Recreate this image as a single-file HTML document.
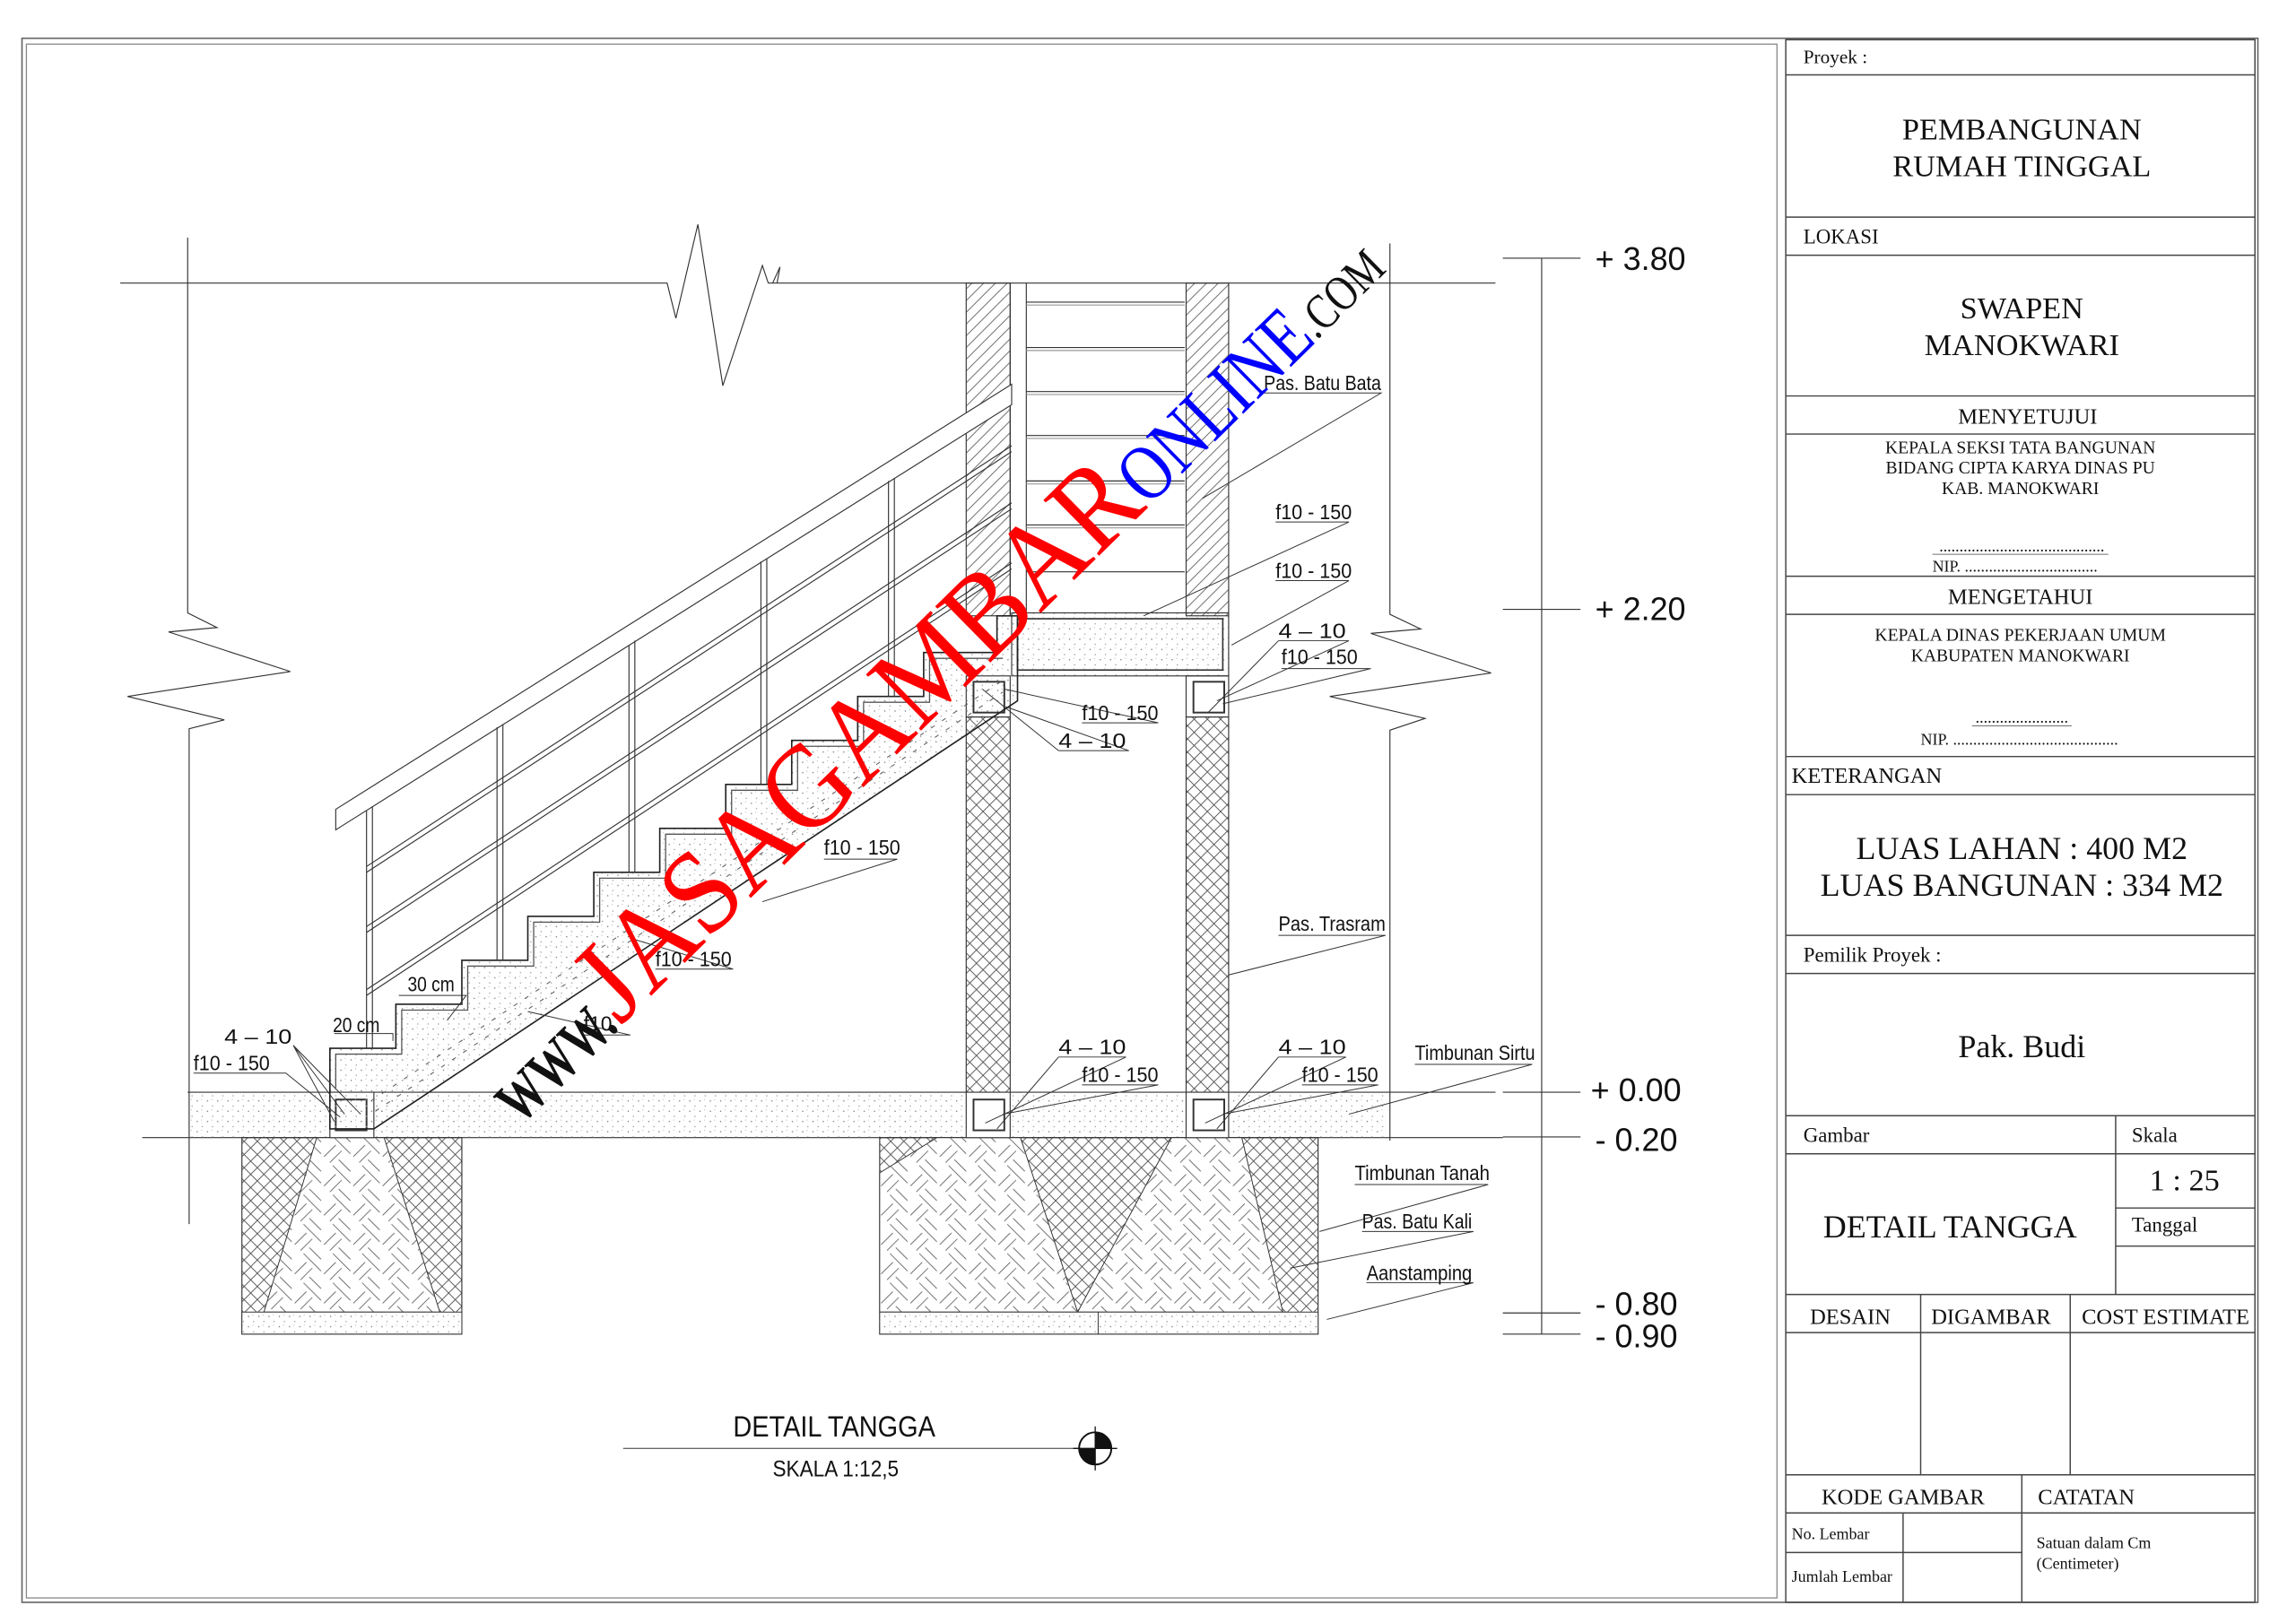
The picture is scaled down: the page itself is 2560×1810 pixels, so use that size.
<!DOCTYPE html>
<html><head><meta charset="utf-8"><style>
html,body{margin:0;padding:0;background:#fff;}
svg{display:block;}
.s{font-family:"Liberation Serif",serif;fill:#111;}
.a{font-family:"Liberation Sans",sans-serif;fill:#111;}
</style></head><body>
<svg width="2560" height="1810" viewBox="0 0 1566 1107" xmlns="http://www.w3.org/2000/svg">
<defs>
<pattern id="cross" width="9" height="9" patternUnits="userSpaceOnUse"><path d="M0 0L9 9M9 0L0 9" stroke="#444" stroke-width="0.5"/></pattern>
<pattern id="hatch" width="8" height="8" patternUnits="userSpaceOnUse"><path d="M0 8L8 0M-2 2L2 -2M6 10L10 6" stroke="#555" stroke-width="0.5"/></pattern>
<pattern id="stone" width="20" height="20" patternUnits="userSpaceOnUse"><path d="M1 9L9 1M5 13L13 5M11 11L19 19M7 15L15 23M11 -1L19 7" stroke="#555" stroke-width="0.5"/></pattern>
<pattern id="dots" width="7" height="7" patternUnits="userSpaceOnUse"><circle cx="1.5" cy="2" r="0.45" fill="#777"/><circle cx="5" cy="5.5" r="0.45" fill="#999"/><circle cx="4.5" cy="1" r="0.35" fill="#aaa"/></pattern>
</defs>
<rect width="1566" height="1107" fill="#fff"/>
<rect x="15" y="26" width="1525" height="1067" fill="none" stroke="#666" stroke-width="1"/>
<rect x="18" y="30" width="1194" height="1060" fill="none" stroke="#888" stroke-width="0.8"/>
<g stroke="#444" stroke-width="0.9" fill="none">
<rect x="1218" y="27" width="320" height="1066"/>
<path d="M1218 51H1538M1218 148H1538M1218 174H1538M1218 270H1538M1218 296H1538M1218 393H1538M1218 419H1538M1218 516H1538M1218 542H1538M1218 638H1538M1218 664H1538M1218 761H1538M1218 787H1538M1443 761V883M1443 824H1538M1443 850H1538M1218 883H1538M1218 909H1538M1310 883V1006M1412 883V1006M1218 1006H1538M1218 1032H1538M1379 1006V1093M1218 1059H1379M1298 1032V1093"/>
<path d="M1318 378H1438M1345 495H1413" stroke-width="0.5"/>
</g>
<g class="s">
<text x="1230" y="43" font-size="13">Proyek :</text>
<text x="1379" y="95" font-size="21" text-anchor="middle">PEMBANGUNAN</text>
<text x="1379" y="120" font-size="21" text-anchor="middle">RUMAH TINGGAL</text>
<text x="1230" y="166" font-size="14">LOKASI</text>
<text x="1379" y="217" font-size="21" text-anchor="middle">SWAPEN</text>
<text x="1379" y="242" font-size="21" text-anchor="middle">MANOKWARI</text>
<text x="1383" y="289" font-size="15" text-anchor="middle">MENYETUJUI</text>
<text x="1378" y="309" font-size="12" text-anchor="middle">KEPALA SEKSI TATA BANGUNAN</text>
<text x="1378" y="323" font-size="12" text-anchor="middle">BIDANG CIPTA KARYA DINAS PU</text>
<text x="1378" y="337" font-size="12" text-anchor="middle">KAB. MANOKWARI</text>
<text x="1379" y="376" font-size="11" text-anchor="middle">.........................................</text>
<text x="1318" y="390" font-size="11">NIP. .................................</text>
<text x="1378" y="412" font-size="15" text-anchor="middle">MENGETAHUI</text>
<text x="1378" y="437" font-size="12" text-anchor="middle">KEPALA DINAS PEKERJAAN UMUM</text>
<text x="1378" y="451" font-size="12" text-anchor="middle">KABUPATEN MANOKWARI</text>
<text x="1379" y="493" font-size="11" text-anchor="middle">.......................</text>
<text x="1310" y="508" font-size="11">NIP. .........................................</text>
<text x="1222" y="534" font-size="15">KETERANGAN</text>
<text x="1379" y="586" font-size="22" text-anchor="middle">LUAS LAHAN : 400 M2</text>
<text x="1379" y="611" font-size="22" text-anchor="middle">LUAS BANGUNAN : 334 M2</text>
<text x="1230" y="656" font-size="14">Pemilik Proyek :</text>
<text x="1379" y="721" font-size="22" text-anchor="middle">Pak. Budi</text>
<text x="1230" y="779" font-size="14">Gambar</text>
<text x="1454" y="779" font-size="14">Skala</text>
<text x="1490" y="812" font-size="21" text-anchor="middle">1 : 25</text>
<text x="1454" y="840" font-size="14">Tanggal</text>
<text x="1330" y="844" font-size="22" text-anchor="middle">DETAIL TANGGA</text>
<text x="1262" y="903" font-size="15" text-anchor="middle">DESAIN</text>
<text x="1358" y="903" font-size="15" text-anchor="middle">DIGAMBAR</text>
<text x="1477" y="903" font-size="15" text-anchor="middle">COST ESTIMATE</text>
<text x="1298" y="1026" font-size="15" text-anchor="middle">KODE GAMBAR</text>
<text x="1390" y="1026" font-size="15">CATATAN</text>
<text x="1222" y="1050" font-size="11">No. Lembar</text>
<text x="1222" y="1079" font-size="11">Jumlah Lembar</text>
<text x="1389" y="1056" font-size="11">Satuan dalam Cm</text>
<text x="1389" y="1070" font-size="11">(Centimeter)</text>
</g>

<g stroke="#333" stroke-width="0.7" fill="none">
<path d="M82 193H455L461 217L476 153L493 263L520 181L524 193L530 193L532 182L527 193H1020"/>
<path d="M128 162V418L148 428L115 431L198 458L87 475L153 491L129 497V835"/>
<path d="M948 166V419L969 429L935 432L1017 459L907 475L972 490L948 498V778"/>
<path d="M128 745H1020M97 776H1025"/>
<path d="M1051.5 176V910M1025 176H1078M1025 415.6H1078M1025 745H1078M1025 775.5H1078M1025 895.6H1078M1025 910H1078"/>
</g>
<g class="a" font-size="22">
<text x="1088" y="184">+ 3.80</text>
<text x="1088" y="423">+ 2.20</text>
<text x="1085" y="751">+ 0.00</text>
<text x="1088" y="785">- 0.20</text>
<text x="1088" y="897">- 0.80</text>
<text x="1088" y="919">- 0.90</text>
</g>
<rect x="128" y="745" width="817" height="31" fill="url(#dots)"/>
<rect x="165" y="776" width="150" height="134" fill="url(#cross)" stroke="#333" stroke-width="0.7"/>
<path d="M216 776H262L300 895H180Z" fill="#fff" stroke="#333" stroke-width="0.6"/>
<path d="M216 776H262L300 895H180Z" fill="url(#stone)"/>
<rect x="165" y="895" width="150" height="15" fill="#fff" stroke="#333" stroke-width="0.6"/>
<rect x="165" y="895" width="150" height="15" fill="url(#dots)"/>
<rect x="600" y="776" width="299" height="134" fill="url(#cross)" stroke="#333" stroke-width="0.7"/>
<path d="M639 776H696L735 895H600V800Z" fill="#fff" stroke="#333" stroke-width="0.6"/>
<path d="M639 776H696L735 895H600V800Z" fill="url(#stone)"/>
<path d="M799 776H847L875 895H735Z" fill="#fff" stroke="#333" stroke-width="0.6"/>
<path d="M799 776H847L875 895H735Z" fill="url(#stone)"/>
<rect x="600" y="895" width="299" height="15" fill="#fff" stroke="#333" stroke-width="0.6"/>
<rect x="600" y="895" width="299" height="15" fill="url(#dots)"/>
<path d="M749 895V910" stroke="#333" stroke-width="0.6"/>
<g stroke="#333" stroke-width="0.7">
<rect x="659" y="193" width="30" height="227" fill="url(#hatch)"/>
<rect x="809" y="193" width="29" height="227" fill="url(#hatch)"/>
<rect x="659" y="489" width="30" height="256" fill="url(#cross)"/>
<rect x="809" y="489" width="29" height="256" fill="url(#cross)"/>
<rect x="659" y="461" width="30" height="28" fill="#fff"/>
<rect x="809" y="461" width="29" height="28" fill="#fff"/>
<rect x="664" y="465" width="21" height="21" fill="none" stroke-width="1.2"/>
<rect x="814" y="465" width="21" height="21" fill="none" stroke-width="1.2"/>
<rect x="659" y="745" width="30" height="31" fill="#fff"/>
<rect x="809" y="745" width="29" height="31" fill="#fff"/>
<rect x="664" y="750" width="21" height="21" fill="none" stroke-width="1.2"/>
<rect x="814" y="750" width="21" height="21" fill="none" stroke-width="1.2"/>
<rect x="225" y="745" width="30" height="31" fill="#fff"/>
<rect x="229" y="750" width="21" height="21" fill="none" stroke-width="1.2"/>
<rect x="690" y="418" width="148" height="43" fill="url(#dots)"/>
<rect x="694" y="422" width="140" height="35" fill="none" stroke-width="1"/>
<path d="M689 193V420M700 193V420M700 206H808M700 237H808M700 267H808M700 297H808M700 328H808M700 358H808M700 390H808" fill="none"/>
<path d="M700 208H808M700 239H808M700 269H808M700 299H808M700 330H808M700 360H808" fill="none" stroke="#999"/>
</g>
<path d="M225 770V715H270V685H315V655H360V625H405V595H450V565H495V535H540V505H585V475H630V445H680V420H694V478L255 770Z" fill="url(#dots)" stroke="#222" stroke-width="1"/>
<path d="M229 742V719H274V689H319V659H364V629H409V599H454V569H499V539H544V509H589V479H634V449H684" fill="none" stroke="#555" stroke-width="0.8"/>
<path d="M256 758L684 472M253 751L684 464" fill="none" stroke="#555" stroke-width="0.6" stroke-dasharray="3 6"/>
<g stroke="#333" stroke-width="0.7" fill="none">
<path d="M229 552L690 262L690 276L229 566Z" fill="#fff"/>
<path d="M250 553V715M254 550V715M339 496V655M343 494V655M429 440V595M433 437V595M519 383V535M523 381V535M606 328V475M610 326V475"/>
<path d="M250 591L690 304M250 595L690 308M250 632L690 343M250 636L690 347M250 675L690 384M250 679L690 388"/>
</g>
<g stroke="#333" stroke-width="0.6" fill="none">
<path d="M200 713L235 760M200 713L228 765M200 713L246 760M132 732H195L232 762"/>
<path d="M272 679H318L305 696M228 705H268V710"/>
<path d="M562 586H612L520 615M447 661H500L430 640M398 706H430L360 690"/>
<path d="M862 268H942L820 340M870 356H920L780 420M870 396H920L840 440M872 437H920L830 478M872 437L824 486M874 456H935L834 480M738 493H790L685 470M722 512H770L686 482M722 512L670 470"/>
<path d="M872 638H945L838 665"/>
<path d="M722 721H768L672 766M722 721L680 770M738 740H790L684 760M872 721H918L822 766M872 721L830 770M888 740H940L834 760"/>
<path d="M965 726H1045L920 760M924 808H1015L900 840M929 840H1005L880 865M932 875H1005L905 900"/>
<path d="M425 988H740"/>
</g>
<g class="a" font-size="14">
<text x="153" y="712" textLength="46" lengthAdjust="spacingAndGlyphs">4  – 10</text>
<text x="132" y="730" textLength="52" lengthAdjust="spacingAndGlyphs">f10 - 150</text>
<text x="227" y="704" textLength="32" lengthAdjust="spacingAndGlyphs">20 cm</text>
<text x="278" y="676" textLength="32" lengthAdjust="spacingAndGlyphs">30 cm</text>
<text x="562" y="583" textLength="52" lengthAdjust="spacingAndGlyphs">f10 - 150</text>
<text x="447" y="659" textLength="52" lengthAdjust="spacingAndGlyphs">f10 - 150</text>
<text x="398" y="703">f10</text>
<text x="862" y="266" textLength="80" lengthAdjust="spacingAndGlyphs">Pas. Batu Bata</text>
<text x="870" y="354" textLength="52" lengthAdjust="spacingAndGlyphs">f10 - 150</text>
<text x="870" y="394" textLength="52" lengthAdjust="spacingAndGlyphs">f10 - 150</text>
<text x="872" y="435" textLength="46" lengthAdjust="spacingAndGlyphs">4  – 10</text>
<text x="874" y="453" textLength="52" lengthAdjust="spacingAndGlyphs">f10 - 150</text>
<text x="738" y="491" textLength="52" lengthAdjust="spacingAndGlyphs">f10 - 150</text>
<text x="722" y="510" textLength="46" lengthAdjust="spacingAndGlyphs">4  – 10</text>
<text x="872" y="635" textLength="73" lengthAdjust="spacingAndGlyphs">Pas. Trasram</text>
<text x="722" y="719" textLength="46" lengthAdjust="spacingAndGlyphs">4  – 10</text>
<text x="738" y="738" textLength="52" lengthAdjust="spacingAndGlyphs">f10 - 150</text>
<text x="872" y="719" textLength="46" lengthAdjust="spacingAndGlyphs">4  – 10</text>
<text x="888" y="738" textLength="52" lengthAdjust="spacingAndGlyphs">f10 - 150</text>
<text x="965" y="723" textLength="82" lengthAdjust="spacingAndGlyphs">Timbunan Sirtu</text>
<text x="924" y="805" textLength="92" lengthAdjust="spacingAndGlyphs">Timbunan Tanah</text>
<text x="929" y="838" textLength="75" lengthAdjust="spacingAndGlyphs">Pas. Batu Kali</text>
<text x="932" y="873" textLength="72" lengthAdjust="spacingAndGlyphs">Aanstamping</text>
<text x="500" y="980" font-size="20" textLength="138" lengthAdjust="spacingAndGlyphs">DETAIL TANGGA</text>
<text x="527" y="1007" font-size="15" textLength="86" lengthAdjust="spacingAndGlyphs">SKALA 1:12,5</text>
</g>
<circle cx="747" cy="988" r="11" fill="#fff" stroke="#111" stroke-width="1.2"/>
<path d="M747 988V977A11 11 0 0 1 758 988Z M747 988V999A11 11 0 0 1 736 988Z" fill="#111"/>
<path d="M732 988H762M747 973V1003" stroke="#111" stroke-width="0.8"/>
<g font-family="Liberation Serif, serif">
<text transform="translate(355,768) rotate(-44.5)" font-size="42" font-weight="bold" fill="#111" textLength="95" lengthAdjust="spacingAndGlyphs">WWW.</text>
<text transform="translate(423,700) rotate(-44.5)" font-size="82" fill="#f00" textLength="505" lengthAdjust="spacingAndGlyphs">JASAGAMBAR</text>
<text transform="translate(783,346) rotate(-44.5)" font-size="54" fill="#00f" textLength="162" lengthAdjust="spacingAndGlyphs">ONLINE</text>
<text transform="translate(898,232) rotate(-44.5)" font-size="34" fill="#111" textLength="68" lengthAdjust="spacingAndGlyphs">.COM</text>
</g>
</svg>
</body></html>
